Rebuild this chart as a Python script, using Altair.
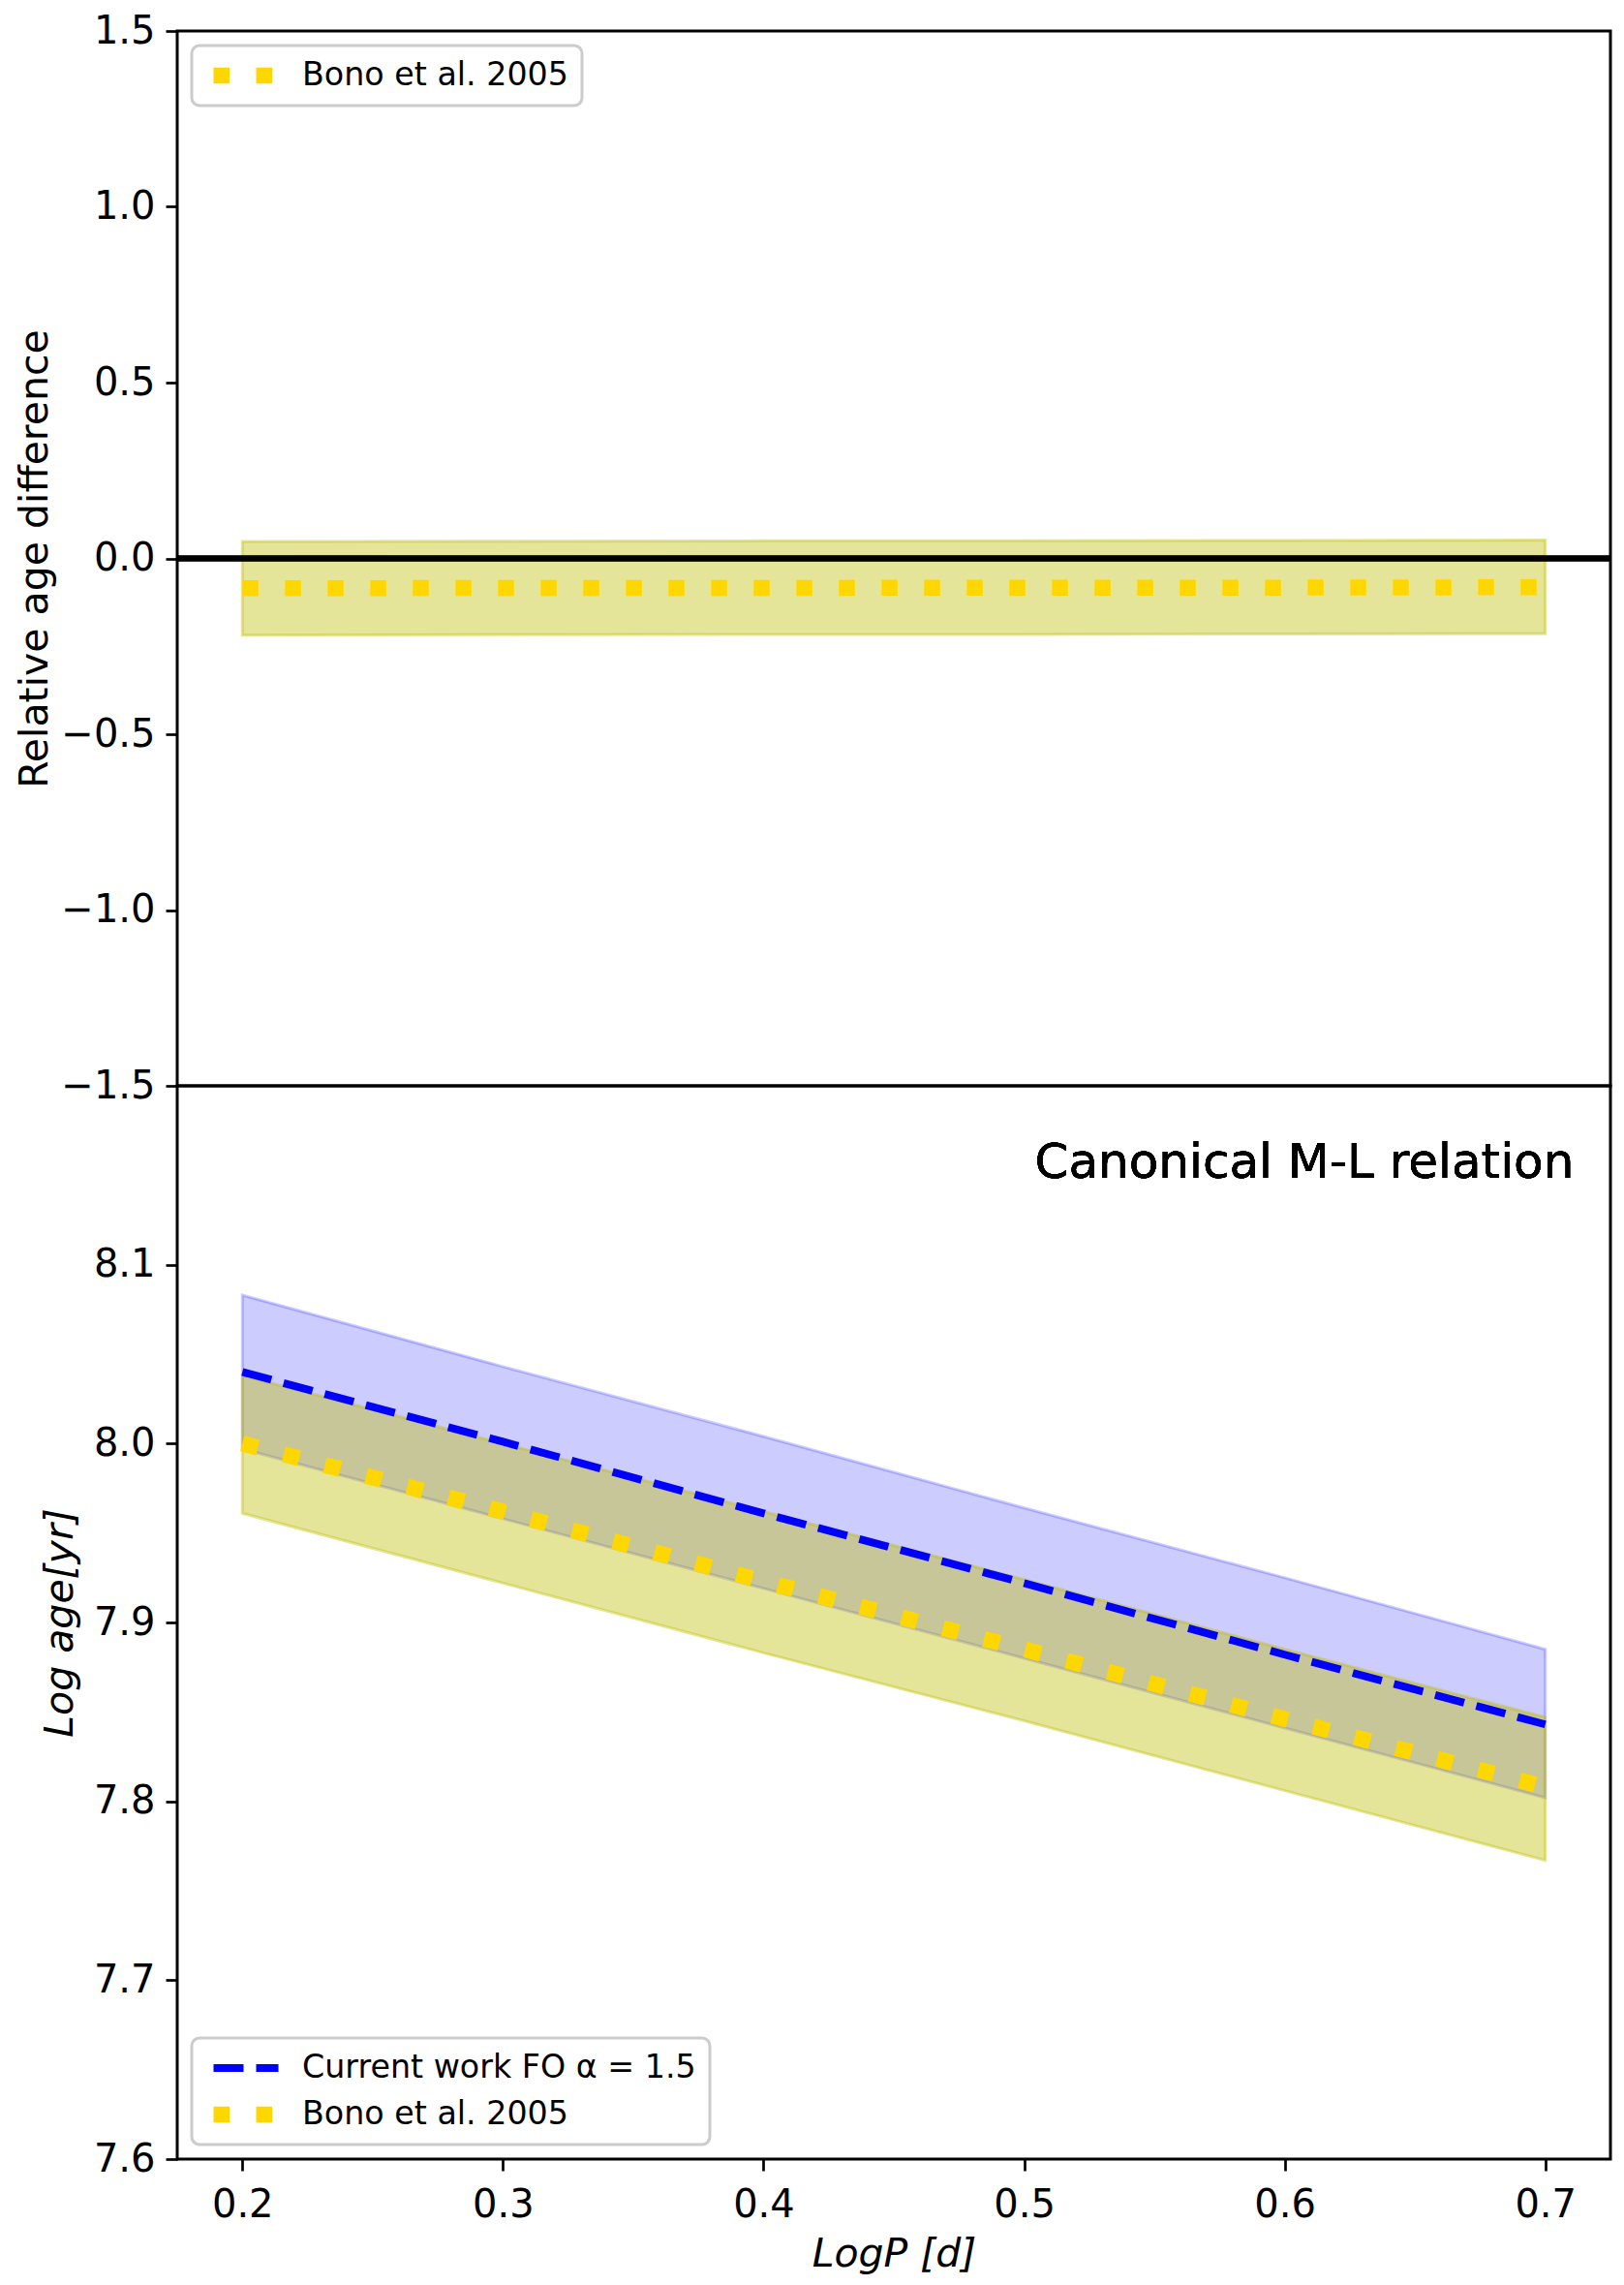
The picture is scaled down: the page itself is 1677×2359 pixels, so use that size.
import altair as alt
import pandas as pd

# ---------------- data ----------------
logP = [0.2, 0.3, 0.4, 0.5, 0.6, 0.7]

# top panel: relative age difference (Bono et al. 2005)
rel_diff = [-0.085, -0.084, -0.084, -0.083, -0.083, -0.082]
rel_diff_hi = [0.048, 0.049, 0.050, 0.050, 0.051, 0.052]
rel_diff_lo = [-0.218, -0.217, -0.216, -0.216, -0.215, -0.214]

# bottom panel: log age
cur_age = [8.040, 8.001, 7.961, 7.922, 7.882, 7.843]
cur_hi = [8.083, 8.043, 8.004, 7.964, 7.925, 7.885]
cur_lo = [7.997, 7.958, 7.919, 7.880, 7.841, 7.802]
bono_age = [8.000, 7.962, 7.923, 7.885, 7.846, 7.808]
bono_hi = [8.038, 8.000, 7.962, 7.924, 7.885, 7.847]
bono_lo = [7.961, 7.922, 7.883, 7.845, 7.806, 7.767]

series_names = ["Current work FO α = 1.5", "Bono et al. 2005"]
x_ticks = [0.2, 0.3, 0.4, 0.5, 0.6, 0.7]
y_top_ticks = [-1.5, -1.0, -0.5, 0.0, 0.5, 1.0, 1.5]
y_bot_ticks = [7.6, 7.7, 7.8, 7.9, 8.0, 8.1]
annotation = "Canonical M-L relation"
ann_x, ann_y = 0.711, 8.1486

# ---------------- styling ----------------
FONT = "DejaVu Sans"
BLUE = "#0000ff"
GOLD = "#ffd700"
OLIVE = "#bfbf00"
W = 1480
H_TOP = 1089
H_BOT = 1108

x_scale = alt.Scale(domain=[0.175, 0.725], nice=False, zero=False)

line_color_scale = alt.Scale(domain=series_names, range=[BLUE, GOLD])
line_dash_scale = alt.Scale(domain=series_names, range=[[31, 13], [16.5, 27.5]])
line_width_scale = alt.Scale(type="ordinal", domain=series_names, range=[8, 16.5])


def make_legend(orient):
    return alt.Legend(
        title=None, orient=orient, offset=15, symbolType="stroke", symbolSize=4489,
        clipHeight=34, labelOffset=16, labelFontSize=33.3, labelFont=FONT,
        labelColor="black", labelLimit=1000, padding=14, rowPadding=14,
        strokeColor="#cccccc", fillColor="white", cornerRadius=8,
    )


# ---------------- top panel ----------------
top_band_df = pd.DataFrame({"logP": logP, "hi": rel_diff_hi, "lo": rel_diff_lo})
top_line_df = pd.DataFrame({"logP": logP, "val": rel_diff,
                            "series": [series_names[1]] * len(logP)})

top_y = alt.Scale(domain=[-1.5, 1.5], nice=False, zero=False)
top_y_axis = alt.Axis(values=y_top_ticks, format=".1f", title="Relative age difference",
                      titlePadding=5, labelPadding=11, labelFlush=False, labelOverlap=False)

top_band = alt.Chart(top_band_df).mark_area(
    fill=OLIVE, fillOpacity=0.4, stroke=OLIVE, strokeOpacity=0.4, strokeWidth=3
).encode(
    x=alt.X("logP:Q", scale=x_scale, axis=None),
    y=alt.Y("hi:Q", scale=top_y, axis=top_y_axis),
    y2="lo:Q",
)
zero_rule = alt.Chart(top_band_df).mark_rule(color="black", strokeWidth=5.5).encode(
    y=alt.datum(0.0)
)
top_leg = make_legend("top-left")
top_line = alt.Chart(top_line_df).mark_line().encode(
    x=alt.X("logP:Q", scale=x_scale, axis=None),
    y=alt.Y("val:Q", scale=top_y, axis=top_y_axis),
    color=alt.Color("series:N", scale=alt.Scale(domain=[series_names[1]], range=[GOLD]), legend=top_leg),
    strokeDash=alt.StrokeDash("series:N", scale=alt.Scale(domain=[series_names[1]], range=[[16.5, 27.5]]), legend=top_leg),
    strokeWidth=alt.StrokeWidth("series:N", scale=alt.Scale(type="ordinal", domain=[series_names[1]], range=[16.5]), legend=top_leg),
)
top = alt.layer(top_band, zero_rule, top_line).properties(width=W, height=H_TOP)

# ---------------- bottom panel ----------------
cur_band_df = pd.DataFrame({"logP": logP, "hi": cur_hi, "lo": cur_lo})
bono_band_df = pd.DataFrame({"logP": logP, "hi": bono_hi, "lo": bono_lo})
lines_df = pd.DataFrame({
    "logP": logP + logP,
    "val": cur_age + bono_age,
    "series": [series_names[0]] * len(logP) + [series_names[1]] * len(logP),
})

bot_y = alt.Scale(domain=[7.6, 8.2], nice=False, zero=False)
bot_y_axis = alt.Axis(values=y_bot_ticks, format=".1f", title="Log age[yr]",
                      titleFontStyle="italic", titlePadding=13, labelPadding=11,
                      labelFlush=False, labelOverlap=False)
bot_x_axis = alt.Axis(values=x_ticks, format=".1f", title="LogP [d]",
                      titleFontStyle="italic", titlePadding=11, labelPadding=15,
                      labelFlush=False, labelOverlap=False)

cur_band = alt.Chart(cur_band_df).mark_area(
    fill=BLUE, fillOpacity=0.2, stroke=BLUE, strokeOpacity=0.2, strokeWidth=3
).encode(
    x=alt.X("logP:Q", scale=x_scale, axis=bot_x_axis),
    y=alt.Y("hi:Q", scale=bot_y, axis=bot_y_axis),
    y2="lo:Q",
)
bono_band = alt.Chart(bono_band_df).mark_area(
    fill=OLIVE, fillOpacity=0.4, stroke=OLIVE, strokeOpacity=0.4, strokeWidth=3
).encode(
    x=alt.X("logP:Q", scale=x_scale, axis=bot_x_axis),
    y=alt.Y("hi:Q", scale=bot_y, axis=bot_y_axis),
    y2="lo:Q",
)
bot_leg = make_legend("bottom-left")
bot_lines = alt.Chart(lines_df).mark_line().encode(
    x=alt.X("logP:Q", scale=x_scale, axis=bot_x_axis),
    y=alt.Y("val:Q", scale=bot_y, axis=bot_y_axis),
    color=alt.Color("series:N", scale=line_color_scale, legend=bot_leg),
    strokeDash=alt.StrokeDash("series:N", scale=line_dash_scale, legend=bot_leg),
    strokeWidth=alt.StrokeWidth("series:N", scale=line_width_scale, legend=bot_leg),
)
ann = alt.Chart(cur_band_df).mark_text(
    text=annotation, align="right", baseline="alphabetic", fontSize=50, font=FONT, color="black"
).encode(x=alt.datum(ann_x), y=alt.datum(ann_y))

bottom = alt.layer(cur_band, bono_band, bot_lines, ann).properties(width=W, height=H_BOT)

chart = alt.vconcat(top, bottom, spacing=0, bounds="flush").resolve_scale(
    y="independent", color="independent", strokeDash="independent", strokeWidth="independent"
).resolve_legend(
    color="independent", strokeDash="independent", strokeWidth="independent"
).properties(
    padding={"left": 6, "top": 2, "right": 0, "bottom": 0}
).configure_view(
    stroke="black", strokeWidth=3
).configure_axis(
    domain=False, grid=False, ticks=True, tickColor="black", tickWidth=2.7, tickSize=12,
    labelFont=FONT, labelFontSize=40, labelColor="black", labelPadding=12,
    titleFont=FONT, titleFontSize=41, titleFontWeight="normal", titleColor="black",
).configure_legend(
    strokeWidth=3
)

chart.save("out.html", embed_options={"renderer": "svg", "actions": False})
